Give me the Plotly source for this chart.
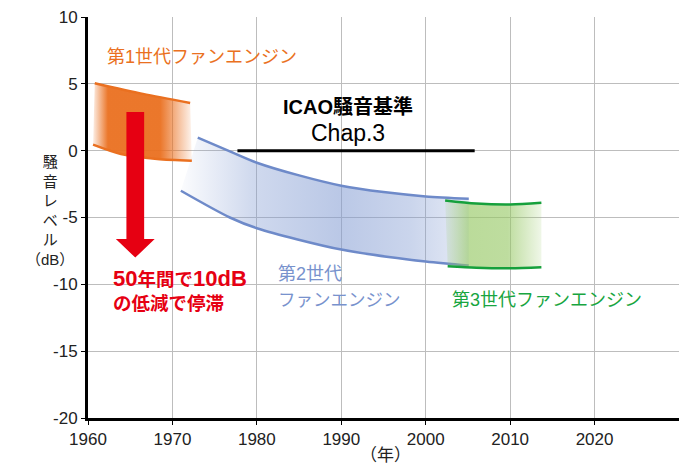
import plotly.graph_objects as go

# ---- data ----
gen1_top_year = [1960.8, 1966.5, 1972.1]
gen1_top_db = [5.05, 4.25, 3.57]
gen1_bot_year = [1960.6, 1963.9, 1968.2, 1972.3]
gen1_bot_db = [0.45, -0.25, -0.62, -0.75]

gen2_top_year = [1973.0, 1976.8, 1980.0, 1985.0, 1990.0, 1995.0, 2000.0, 2005.1]
gen2_top_db = [0.97, -0.05, -0.9, -1.85, -2.62, -3.1, -3.42, -3.6]
gen2_bot_year = [1971.0, 1976.8, 1980.0, 1990.0, 2000.0, 2005.1]
gen2_bot_db = [-3.0, -5.0, -5.8, -7.4, -8.3, -8.6]

gen3_top_year = [2002.3, 2006.0, 2010.0, 2013.7]
gen3_top_db = [-3.72, -3.95, -4.02, -3.9]
gen3_bot_year = [2002.6, 2006.0, 2010.0, 2013.7]
gen3_bot_db = [-8.65, -8.76, -8.8, -8.72]

icao_year = [1977.7, 2005.8]
icao_db = [0.0, 0.0]

arrow_year = 1965.6
arrow_from_db = 2.9
arrow_to_db = -8.0

x_ticks = [1960, 1970, 1980, 1990, 2000, 2010, 2020]
y_ticks = [-20, -15, -10, -5, 0, 5, 10]
y_tick_labels = ["-20", "-15", "-10", "-5", "0", "5", "10"]
y_title = "騒<br>音<br>レ<br>ベ<br>ル<br>（dB）"

# ---- styles ----
ORANGE = "rgb(234,112,32)"
BLUE_LINE = "rgb(110,138,201)"
GREEN_LINE = "rgb(22,160,60)"
RED = "rgb(230,0,18)"
FONT = "Liberation Sans, Arial, Noto Sans CJK JP"

fig = go.Figure()


def band(xb, yb, xt, yt, line_color, scale, lw=2.5):
    fig.add_trace(go.Scatter(x=xb, y=yb, mode="lines",
                             line=dict(color=line_color, width=lw, shape="spline", smoothing=0.8),
                             hoverinfo="skip", showlegend=False))
    fig.add_trace(go.Scatter(x=xt, y=yt, mode="lines", fill="tonexty",
                             fillgradient=dict(type="horizontal", colorscale=scale),
                             line=dict(color=line_color, width=lw, shape="spline", smoothing=0.8),
                             hoverinfo="skip", showlegend=False))


band(gen2_bot_year, gen2_bot_db, gen2_top_year, gen2_top_db, BLUE_LINE,
     [[0, "rgba(130,155,210,0.03)"], [0.25, "rgba(130,155,210,0.38)"],
      [0.55, "rgba(130,155,210,0.55)"], [0.8, "rgba(130,155,210,0.42)"],
      [1, "rgba(130,155,210,0.2)"]])
band(gen3_bot_year, gen3_bot_db, gen3_top_year, gen3_top_db, GREEN_LINE,
     [[0, "rgba(150,200,100,0.12)"], [0.25, "rgba(150,200,100,0.65)"],
      [0.65, "rgba(150,200,100,0.62)"], [1, "rgba(150,200,100,0.15)"]])
band(gen1_bot_year, gen1_bot_db, gen1_top_year, gen1_top_db, ORANGE,
     [[0, "rgba(234,112,32,0.12)"], [0.15, "rgba(234,112,32,0.95)"],
      [0.68, "rgba(234,112,32,0.95)"], [1, "rgba(234,112,32,0.08)"]])

# ICAO Chap.3 line
fig.add_trace(go.Scatter(x=icao_year, y=icao_db, mode="lines",
                         line=dict(color="black", width=3),
                         hoverinfo="skip", showlegend=False))

# red arrow
hw_shaft, hw_head, head_len = 1.05, 2.3, 1.4
ax = [arrow_year - hw_shaft, arrow_year + hw_shaft, arrow_year + hw_shaft,
      arrow_year + hw_head, arrow_year, arrow_year - hw_head, arrow_year - hw_shaft]
ay = [arrow_from_db, arrow_from_db, arrow_to_db + head_len, arrow_to_db + head_len,
      arrow_to_db, arrow_to_db + head_len, arrow_to_db + head_len]
fig.add_trace(go.Scatter(x=ax, y=ay, mode="lines", fill="toself", fillcolor=RED,
                         line=dict(width=0, color=RED), hoverinfo="skip", showlegend=False))

L = '<span style="font-size:22px">'
ann = []
ann.append(dict(x=1962.0, y=7.0, text="第1世代ファンエンジン", xanchor="left", yanchor="middle",
                showarrow=False, font=dict(family=FONT, size=18, color=ORANGE)))
ann.append(dict(x=1990.8, y=3.3, text="<b>ICAO騒音基準</b>", xanchor="center", yanchor="middle",
                showarrow=False, font=dict(family=FONT, size=20, color="black")))
ann.append(dict(x=1990.8, y=1.35, text="Chap.3", xanchor="center", yanchor="middle",
                showarrow=False, font=dict(family=FONT, size=23, color="black")))
ann.append(dict(x=1962.7, y=-9.6, text=f"<b>{L}50</span>年間で{L}10dB</span></b>",
                xanchor="left", yanchor="middle",
                showarrow=False, font=dict(family=FONT, size=18.5, color=RED)))
ann.append(dict(x=1962.7, y=-11.4, text="<b>の低減で停滞</b>", xanchor="left", yanchor="middle",
                showarrow=False, font=dict(family=FONT, size=18.5, color=RED)))
ann.append(dict(x=1982.3, y=-9.2, text="第2世代", xanchor="left", yanchor="middle",
                showarrow=False, font=dict(family=FONT, size=18, color="rgb(120,146,205)")))
ann.append(dict(x=1982.3, y=-11.2, text="ファンエンジン", xanchor="left", yanchor="middle",
                showarrow=False, font=dict(family=FONT, size=17.5, color="rgb(120,146,205)")))
ann.append(dict(x=2002.9, y=-11.2, text="第3世代ファンエンジン", xanchor="left", yanchor="middle",
                showarrow=False, font=dict(family=FONT, size=18, color="rgb(24,165,64)")))
ann.append(dict(xref="paper", x=0, xshift=-38, y=-4.45, text=y_title,
                xanchor="center", yanchor="middle", showarrow=False, align="center",
                font=dict(family=FONT, size=15, color="#222")))
ann.append(dict(x=1995.2, yref="paper", y=0, yshift=-37, text="（年）", xanchor="center",
                yanchor="middle", showarrow=False, font=dict(family=FONT, size=17, color="#222")))

fig.update_layout(
    width=687, height=469,
    margin=dict(l=88, r=8, t=17, b=51),
    paper_bgcolor="white", plot_bgcolor="white",
    annotations=ann,
    xaxis=dict(range=[1960, 2030], tickvals=x_ticks, showgrid=True, gridcolor="#BDBDBD",
               gridwidth=1, showline=True, linecolor="black", linewidth=3, ticks="outside",
               ticklen=4, tickcolor="black", zeroline=False,
               tickfont=dict(family=FONT, size=17, color="#222")),
    yaxis=dict(range=[-20, 10], tickvals=y_ticks, ticktext=y_tick_labels, showgrid=True,
               gridcolor="#BDBDBD", gridwidth=1, showline=True, linecolor="black", linewidth=3,
               ticks="outside", ticklen=4, tickcolor="black", zeroline=False,
               tickfont=dict(family=FONT, size=17, color="#222")),
)

fig.write_html("out.html", config={"displayModeBar": False},
               post_script="document.body.style.margin='0px';")
